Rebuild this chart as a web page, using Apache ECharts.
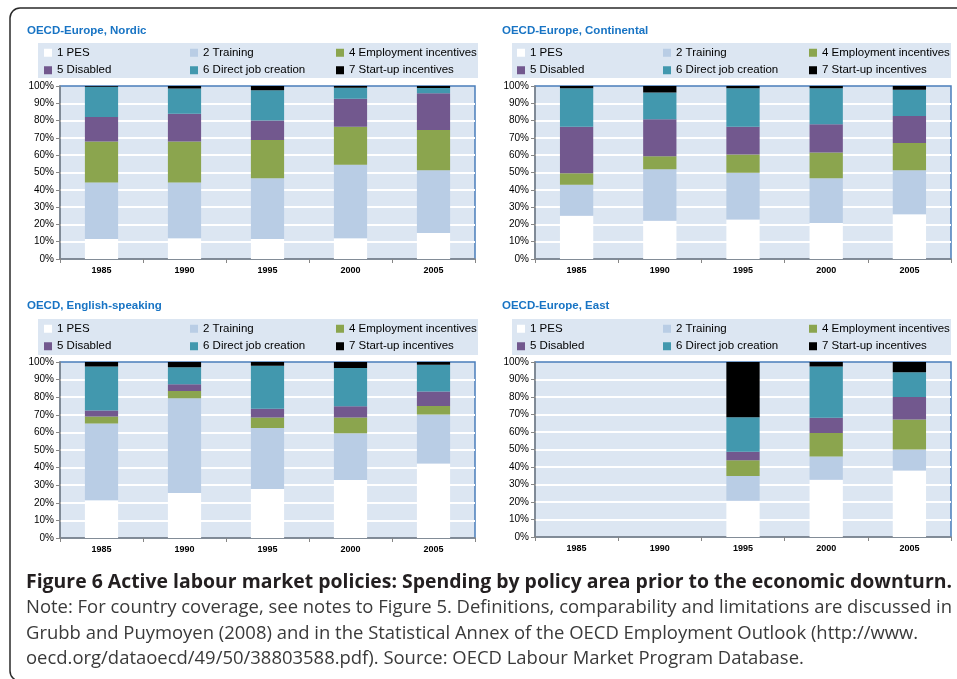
<!DOCTYPE html>
<html>
<head>
<meta charset="utf-8">
<script src="https://cdn.jsdelivr.net/npm/echarts@6/dist/echarts.min.js"></script>
<style>
  html, body { margin: 0; padding: 0; background: #ffffff; }
  #chart { width: 957px; height: 679px; }
</style>
</head>
<body>
<div id="chart"></div>
<script>
// Survey years shown on every panel
const years = ['1985', '1990', '1995', '2000', '2005'];

// Policy areas (stack order, bottom to top)
const policies = [
  '1 PES',
  '2 Training',
  '4 Employment incentives',
  '5 Disabled',
  '6 Direct job creation',
  '7 Start-up incentives'
];

const regionTitles = [
  'OECD-Europe, Nordic',
  'OECD-Europe, Continental',
  'OECD, English-speaking',
  'OECD-Europe, East'
];

// Share of spending (%) — one row per policy area, one value per year
const nordic = [
  [11.5, 12.0, 11.5, 12.0, 15.0],
  [32.7, 32.2, 35.2, 42.5, 36.3],
  [23.7, 23.7, 22.1, 22.0, 23.3],
  [14.2, 16.1, 11.2, 16.2, 21.2],
  [17.4, 14.5, 17.5, 6.3, 3.0],
  [0.5, 1.5, 2.5, 1.0, 1.2]
];

const continental = [
  [25.0, 22.1, 22.9, 20.8, 25.8],
  [17.9, 29.8, 26.9, 25.9, 25.5],
  [6.7, 7.5, 10.6, 14.8, 15.8],
  [26.9, 21.4, 16.1, 16.4, 15.6],
  [22.2, 15.4, 22.2, 20.8, 15.2],
  [1.3, 3.8, 1.3, 1.3, 2.1]
];

const englishSpeaking = [
  [21.4, 25.6, 27.8, 33.0, 42.4],
  [43.6, 53.8, 34.7, 26.5, 27.7],
  [4.1, 4.1, 5.9, 8.9, 4.9],
  [3.4, 3.8, 5.1, 6.4, 8.3],
  [25.0, 9.7, 24.4, 21.8, 15.2],
  [2.5, 3.0, 2.1, 3.4, 1.5]
];

const east = [
  [null, null, 20.7, 32.7, 38.0],
  [null, null, 14.1, 13.3, 12.0],
  [null, null, 9.1, 13.5, 17.1],
  [null, null, 4.8, 8.6, 12.9],
  [null, null, 19.7, 29.4, 14.1],
  [null, null, 31.6, 2.5, 5.9]
];

const captionTitle = 'Figure 6 Active labour market policies: Spending by policy area prior to the economic downturn.';
const captionNote = [
  'Note: For country coverage, see notes to Figure 5. Definitions, comparability and limitations are discussed in',
  'Grubb and Puymoyen (2008) and in the Statistical Annex of the OECD Employment Outlook (http://www.',
  'oecd.org/dataoecd/49/50/38803588.pdf). Source: OECD Labour Market Program Database.'
];

// ---- styling / layout ----
const regions = [nordic, continental, englishSpeaking, east];
const policyColors = ['#ffffff', '#b9cde5', '#8ba54e', '#72588e', '#4298ae', '#000000'];
const FONT = 'Liberation Sans, Arial, sans-serif';
const AXIS_GREY = '#868686';
const PANEL_BG = '#dce6f2';

const gridRects = [
  { left: 60, top: 86, width: 415, height: 173 },
  { left: 535, top: 86, width: 416, height: 173 },
  { left: 60, top: 362, width: 415, height: 176 },
  { left: 535, top: 362, width: 416, height: 175 }
];
const titlePos = [
  { left: 27, top: 25 }, { left: 502, top: 25 },
  { left: 27, top: 300 }, { left: 502, top: 300 }
];
const legendPos = [
  { left: 38, top: 43, padding: [3, 0, 1, 6] },
  { left: 512, top: 43, padding: [3, 0, 1, 5] },
  { left: 38, top: 319, padding: [3, 0, 2, 6] },
  { left: 512, top: 319, padding: [3, 0, 2, 5] }
];

// Caption is drawn in a humanist sans, compressed horizontally to a fixed line length
const CAPTION_FONT = '"Open Sans", sans-serif';
const CAPTION_LEFT = 26;
const CAPTION_RIGHT = 952;
function measure(text, font) {
  const ctx = document.createElement('canvas').getContext('2d');
  ctx.font = font;
  return ctx.measureText(text).width;
}
const titleScale = (CAPTION_RIGHT - CAPTION_LEFT) /
  measure(captionTitle, 'bold 20px ' + CAPTION_FONT);
const noteScale = (CAPTION_RIGHT - CAPTION_LEFT) /
  measure(captionNote[0], '18.5px ' + CAPTION_FONT);

const grids = gridRects.map(r => Object.assign({
  show: true,
  backgroundColor: PANEL_BG,
  borderColor: '#4a7ebb',
  borderWidth: 1.5,
  outerBoundsMode: 'none',
  containLabel: false
}, r));

const xAxes = gridRects.map((r, i) => ({
  type: 'category',
  gridIndex: i,
  data: years,
  axisLine: { show: true, lineStyle: { color: AXIS_GREY, width: 1.5 } },
  axisTick: { show: true, length: 4, lineStyle: { color: AXIS_GREY, width: 1 } },
  axisLabel: { fontSize: 9, fontWeight: 'bold', color: '#000', margin: 7, fontFamily: FONT, interval: 0 },
  splitLine: { show: false }
}));

const yAxes = gridRects.map((r, i) => ({
  type: 'value',
  gridIndex: i,
  min: 0,
  max: 100,
  interval: 10,
  axisLine: { show: true, lineStyle: { color: AXIS_GREY, width: 1.5 } },
  axisTick: { show: true, length: 4, lineStyle: { color: AXIS_GREY, width: 1 } },
  axisLabel: { formatter: '{value}%', fontSize: 10, color: '#000', margin: 6, fontFamily: FONT },
  splitLine: { show: true, showMinLine: false, showMaxLine: false, lineStyle: { color: '#ffffff', width: 2 } }
}));

const series = [];
regions.forEach((rows, r) => {
  rows.forEach((values, p) => {
    series.push({
      type: 'bar',
      name: policies[p],
      xAxisIndex: r,
      yAxisIndex: r,
      stack: 'share' + r,
      barWidth: '40%',
      data: values,
      itemStyle: { color: policyColors[p], borderWidth: 0 },
      emphasis: { disabled: true }
    });
  });
});

const titles = regionTitles.map((t, i) => ({
  text: t,
  left: titlePos[i].left,
  top: titlePos[i].top,
  padding: 0,
  textStyle: { fontSize: 11.5, fontWeight: 'bold', color: '#1874c4', fontFamily: FONT }
}));

const legends = legendPos.map(pos => ({
  left: pos.left,
  top: pos.top,
  padding: pos.padding,
  width: 436,
  orient: 'horizontal',
  backgroundColor: PANEL_BG,
  icon: 'rect',
  itemWidth: 8,
  itemHeight: 8,
  itemGap: 4,
  selectedMode: false,
  data: policies,
  itemStyle: { borderWidth: 0 },
  textStyle: { fontSize: 11.5, color: '#000', fontFamily: FONT, width: 129, lineHeight: 13.5 }
}));

const captionGraphics = [
  {
    type: 'rect',
    z: -10,
    silent: true,
    shape: { x: 10, y: 8, width: 962, height: 673, r: 10 },
    style: { fill: 'none', stroke: '#2a2a2a', lineWidth: 1.5 }
  },
  {
    type: 'text',
    x: CAPTION_LEFT,
    y: 582,
    scaleX: titleScale,
    silent: true,
    style: {
      text: captionTitle,
      x: 0, y: 0,
      fontSize: 20,
      fontWeight: 'bold',
      fontFamily: CAPTION_FONT,
      fill: '#231f20',
      verticalAlign: 'middle'
    }
  }
].concat(captionNote.map((line, k) => ({
  type: 'text',
  x: CAPTION_LEFT,
  y: 608 + k * 25.5,
  scaleX: noteScale,
  silent: true,
  style: {
    text: line,
    x: 0, y: 0,
    fontSize: 18.5,
    fontFamily: CAPTION_FONT,
    fill: '#3a3a3a',
    verticalAlign: 'middle'
  }
})));

const chart = echarts.init(document.getElementById('chart'), null, { renderer: 'canvas' });
chart.setOption({
  animation: false,
  backgroundColor: '#ffffff',
  title: titles,
  legend: legends,
  grid: grids,
  xAxis: xAxes,
  yAxis: yAxes,
  series: series,
  graphic: captionGraphics
});
</script>
</body>
</html>
